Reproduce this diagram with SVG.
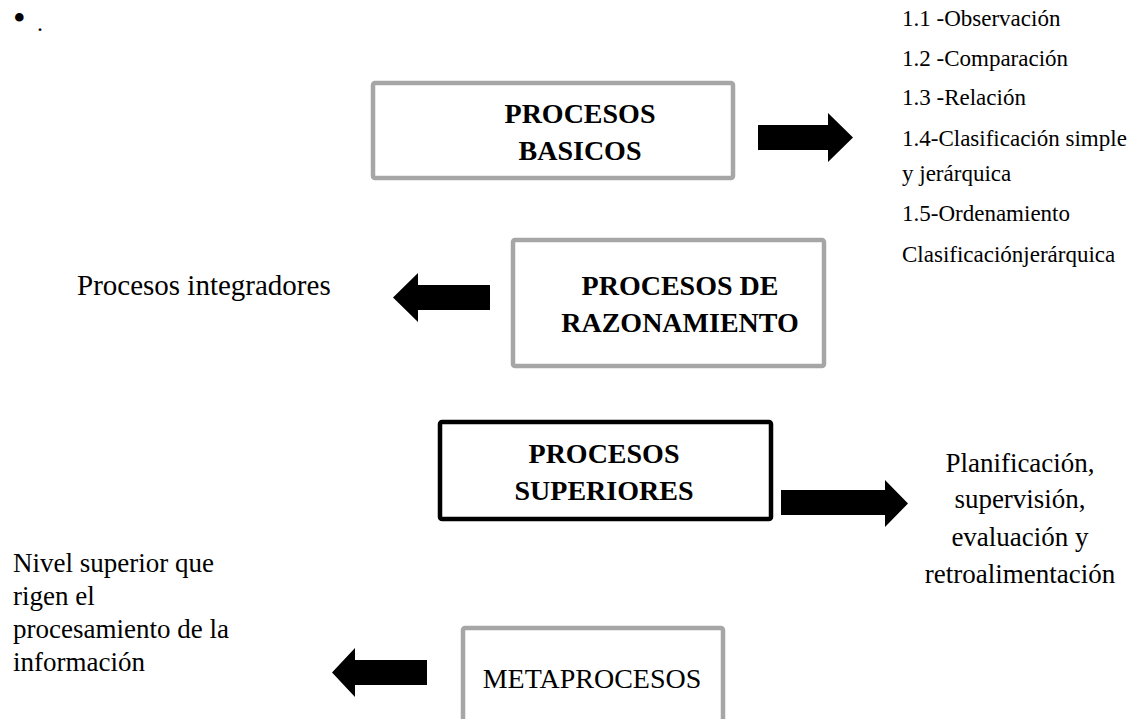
<svg xmlns="http://www.w3.org/2000/svg" width="1142" height="719" viewBox="0 0 1142 719">
<style>
  text { font-family: "Liberation Serif", "Times New Roman", serif; fill: #000; }
  .lbl { font-size: 28px; font-weight: bold; text-anchor: middle; }
  .plain { font-size: 28px; text-anchor: middle; }
  .list { font-size: 23px; }
  .side { font-size: 27px; }
  .gbox { fill: #fff; stroke: #a6a6a6; stroke-width: 4.5; }
  .kbox { fill: #fff; stroke: #000; stroke-width: 4.5; }
  .arrow { fill: #000; }
</style>
<rect width="1142" height="719" fill="#fff"/>
<text x="13" y="30" style="font-size:36px">•</text>
<text x="37" y="31" style="font-size:24px">.</text>

<g id="node-basicos">
  <rect class="gbox" x="373" y="83" width="360" height="95" rx="2"/>
  <text class="lbl" x="580" y="123">PROCESOS</text>
  <text class="lbl" x="580" y="160">BASICOS</text>
</g>
<g id="node-razonamiento">
  <rect class="gbox" x="513" y="240" width="311" height="126" rx="2"/>
  <text class="lbl" x="680" y="295">PROCESOS DE</text>
  <text class="lbl" x="680" y="332">RAZONAMIENTO</text>
</g>
<g id="node-superiores">
  <rect class="kbox" x="440" y="422" width="331" height="97" rx="2"/>
  <text class="lbl" x="604" y="463">PROCESOS</text>
  <text class="lbl" x="604" y="500">SUPERIORES</text>
</g>
<g id="node-metaprocesos">
  <rect class="gbox" x="463" y="628" width="260" height="120" rx="2"/>
  <text class="plain" x="592" y="688">METAPROCESOS</text>
</g>

<g id="list-basicos" class="list">
  <text class="list" x="902" y="26">1.1 -Observación</text>
  <text class="list" x="902" y="66">1.2 -Comparación</text>
  <text class="list" x="902" y="105">1.3 -Relación</text>
  <text class="list" x="902" y="146">1.4-Clasificación simple</text>
  <text class="list" x="902" y="181">y jerárquica</text>
  <text class="list" x="902" y="221">1.5-Ordenamiento</text>
  <text class="list" x="902" y="262">Clasificaciónjerárquica</text>
</g>
<g id="text-integradores">
  <text x="77" y="295" style="font-size:29px">Procesos integradores</text>
</g>
<g id="text-superiores">
  <text class="side" x="1020" y="472" text-anchor="middle">Planificación,</text>
  <text class="side" x="1020" y="508" text-anchor="middle">supervisión,</text>
  <text class="side" x="1020" y="546" text-anchor="middle">evaluación y</text>
  <text class="side" x="1020" y="583" text-anchor="middle">retroalimentación</text>
</g>
<g id="text-meta">
  <text class="side" x="13" y="572">Nivel superior que</text>
  <text class="side" x="13" y="605">rigen el</text>
  <text class="side" x="13" y="638">procesamiento de la</text>
  <text class="side" x="13" y="671">información</text>
</g>

<g id="connectors">
  <polygon class="arrow" points="758,125 828,125 828,113 853,137.5 828,162 828,150 758,150"/>
  <polygon class="arrow" points="490,285 418,285 418,273 393,297.5 418,322 418,310 490,310"/>
  <polygon class="arrow" points="781,490 885,490 885,480 908,503.5 885,527 885,515 781,515"/>
  <polygon class="arrow" points="427,660 355,660 355,648 332,672.5 355,697 355,685 427,685"/>
</g>
</svg>
